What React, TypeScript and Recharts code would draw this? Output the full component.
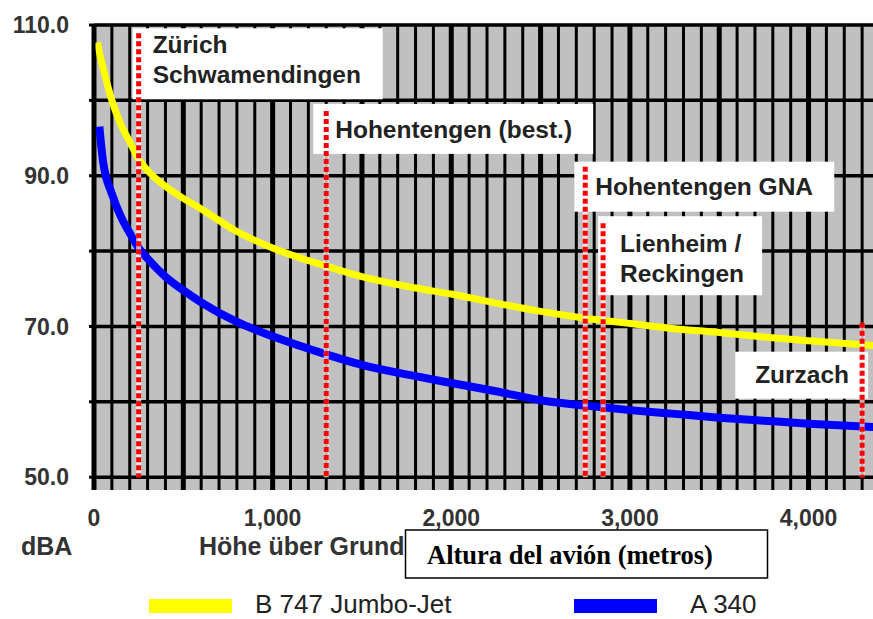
import { LineChart, Line, XAxis, YAxis, CartesianGrid, ReferenceLine } from "recharts";

// Flughöhe über Grund (m) und Schallpegel (dBA)
const HEIGHTS = [20, 30, 50, 100, 150, 200, 250, 300, 400, 500, 600, 800, 1000, 1300, 1500, 1800, 2000, 2250, 2500, 2750, 3000, 3250, 3500, 3750, 4000, 4400];
const B747 = [107.7, 106.4, 104.4, 100.0, 96.8, 94.5, 92.2, 90.7, 88.6, 87.0, 85.6, 82.6, 80.4, 78.0, 76.6, 75.1, 74.3, 73.1, 72.0, 71.1, 70.4, 69.7, 69.2, 68.6, 68.1, 67.4];
const A340 = [null, 96.5, 92.0, 87.6, 84.6, 82.4, 80.4, 79.0, 76.6, 74.8, 73.2, 70.6, 68.7, 66.3, 64.9, 63.4, 62.5, 61.4, 60.2, 59.5, 58.9, 58.4, 57.9, 57.5, 57.1, 56.6];

const SERIES = [
  { key: "b747", name: "B 747 Jumbo-Jet", color: "#ffff00", width: 7 },
  { key: "a340", name: "A 340", color: "#0000ff", width: 8 },
];

// Orte: Höhe (m) und Oberkante der roten Linie (dBA)
const PLACES = [
  { id: "zh", lines: ["Zürich", "Schwamendingen"], x: 250, top: 108.9 },
  { id: "best", lines: ["Hohentengen (best.)"], x: 1300, top: 98.6 },
  { id: "gna", lines: ["Hohentengen GNA"], x: 2750, top: 91.2 },
  { id: "lien", lines: ["Lienheim /", "Reckingen"], x: 2850, top: 83.7 },
  { id: "zz", lines: ["Zurzach"], x: 4300, top: 70.5 },
];

const X_TICKS = Array.from({ length: 45 }, (_, i) => i * 100);
const Y_TICKS = [50, 60, 70, 80, 90, 100, 110];
const Y_LABELED = [50, 70, 90, 110];

// Kastenlage relativ zur roten Linie (px)
const BOX: Record<string, { dx: number; dy: number; w: number; h: number; tx: number; ty: number }> = {
  zh: { dx: -6, dy: -5, w: 250, h: 71, tx: 14, ty: 20 },
  best: { dx: -13, dy: -7, w: 280, h: 50, tx: 9, ty: 27 },
  gna: { dx: -11, dy: -5, w: 260, h: 50, tx: 10, ty: 28 },
  lien: { dx: -5, dy: -7, w: 164, h: 79, tx: 17, ty: 29 },
  zz: { dx: -127, dy: 29, w: 133, h: 47, tx: -107, ty: 60 },
};

const SANS = '"Liberation Sans", Arial, Helvetica, sans-serif';
const SERIF = '"Liberation Serif", "Times New Roman", serif';

const rows = HEIGHTS.map((h, i) => ({ h, b747: B747[i], a340: A340[i] }));

function PlaceLabel({ viewBox, place }: any) {
  if (!viewBox) return null;
  const { x, y, height } = viewBox;
  const b = BOX[place.id];
  return (
    <g>
      <rect x={x + b.dx} y={y + b.dy} width={b.w} height={b.h} fill="#fff" />
      {place.lines.map((t: string, i: number) => (
        <text key={t} x={x + b.tx} y={y + b.ty + i * 30} fontSize={24.5} fontWeight={700} fill="#222" fontFamily={SANS}>
          {t}
        </text>
      ))}
      <line x1={x} x2={x} y1={y} y2={y + height} stroke="#fff" strokeOpacity={0.7} strokeWidth={5} />
      <line x1={x} x2={x} y1={y} y2={y + height} stroke="#ff0000" strokeWidth={5} strokeDasharray="5 3" />
    </g>
  );
}

export default function App() {
  return (
    <div style={{ position: "absolute", left: 0, top: 0, width: 873, height: 619, overflow: "hidden", background: "#fff", fontFamily: SANS }}>
      <LineChart width={880} height={535} data={rows} margin={{ top: 25, right: 0, bottom: 0, left: 0 }}>
        <CartesianGrid
          syncWithTicks
          fill="#c0c0c0"
          fillOpacity={1}
          stroke="#000"
          horizontal={(p: any) => <line x1={p.x1} x2={p.x2} y1={p.y1} y2={p.y2} stroke="#000" strokeWidth={3.5} />}
          vertical={(p: any) => (
            <line x1={p.x1} x2={p.x2} y1={p.y1} y2={p.y2} stroke="#000" strokeWidth={p.index % 5 === 0 ? 5 : 3} />
          )}
        />
        <XAxis
          dataKey="h"
          type="number"
          domain={[0, 4400]}
          ticks={X_TICKS}
          interval={0}
          allowDataOverflow
          tickFormatter={(v: number) => (v % 1000 === 0 ? v.toLocaleString("en-US") : "")}
          axisLine={false}
          tickLine={false}
          tickSize={0}
          tickMargin={20}
          height={45}
          tick={{ fill: "#333", fontSize: 23, fontWeight: 700, fontFamily: SANS }}
        />
        <YAxis
          type="number"
          domain={[48.3, 110]}
          ticks={Y_TICKS}
          interval={0}
          allowDataOverflow
          width={94}
          axisLine={{ stroke: "#000", strokeWidth: 3 }}
          tickLine={{ stroke: "#000", strokeWidth: 3 }}
          tickSize={5}
          tickMargin={20}
          tickFormatter={(v: number) => (Y_LABELED.includes(v) ? v.toFixed(1) : "")}
          tick={{ fill: "#333", fontSize: 23, fontWeight: 700, fontFamily: SANS }}
        />
        {SERIES.map((s) => (
          <Line
            key={s.key}
            dataKey={s.key}
            name={s.name}
            type="monotone"
            stroke={s.color}
            strokeWidth={s.width}
            dot={false}
            activeDot={false}
            isAnimationActive={false}
          />
        ))}
        {PLACES.map((p) => (
          <ReferenceLine
            key={p.id}
            segment={[{ x: p.x, y: p.top }, { x: p.x, y: 50 }]}
            stroke="none"
            label={<PlaceLabel place={p} />}
          />
        ))}
      </LineChart>
      <svg width={873} height={619} style={{ position: "absolute", left: 0, top: 0, pointerEvents: "none" }}>
        <text x={21} y={555} fontSize={25} fontWeight={700} fill="#333" fontFamily={SANS}>dBA</text>
        <text x={199} y={555} fontSize={25} fontWeight={700} fill="#333" fontFamily={SANS}>Höhe über Grund</text>
        <rect x={405.5} y={530} width={362} height={48} fill="#fff" stroke="#000" strokeWidth={1.5} />
        <text x={427} y={564} fontSize={26.5} fontWeight={700} fill="#000" fontFamily={SERIF}>Altura del avión (metros)</text>
        {SERIES.map((s, i) => (
          <g key={s.key}>
            <rect x={149 + i * 425} y={599} width={83} height={14} fill={s.color} />
            <text x={255 + i * 435} y={613} fontSize={26} fill="#222" fontFamily={SANS}>{s.name}</text>
          </g>
        ))}
      </svg>
    </div>
  );
}
